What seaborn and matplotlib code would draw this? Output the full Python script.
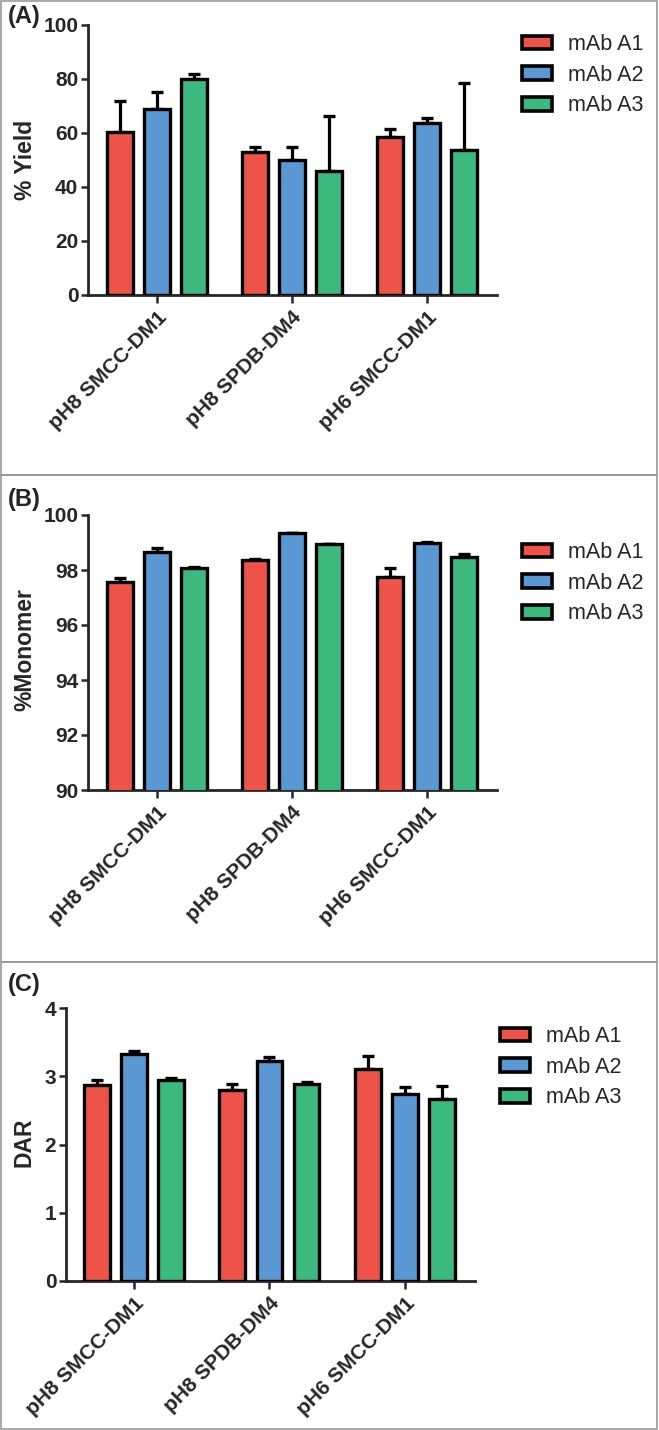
import matplotlib
matplotlib.use("Agg")
import matplotlib.pyplot as plt
import matplotlib.patches as mpatches
import numpy as np
import pandas as pd
import seaborn as sns

linkers = ["pH8 SMCC-DM1", "pH8 SPDB-DM4", "pH6 SMCC-DM1"]
mabs = ["mAb A1", "mAb A2", "mAb A3"]
colors = ["#EE5349", "#5B97D2", "#3CB97D"]

# rows = mAb, columns = linker
yield_mean = [[60.5, 53.1, 58.6], [68.8, 50.0, 63.6], [80.1, 46.0, 53.7]]
yield_sd = [[11.5, 1.7, 3.0], [6.4, 4.8, 1.8], [1.7, 20.4, 24.7]]
monomer_mean = [[97.57, 98.36, 97.73], [98.64, 99.33, 98.99], [98.08, 98.93, 98.48]]
monomer_sd = [[0.15, 0.04, 0.35], [0.17, 0.03, 0.03], [0.02, 0.02, 0.12]]
dar_mean = [[2.87, 2.80, 3.11], [3.32, 3.23, 2.74], [2.95, 2.89, 2.66]]
dar_sd = [[0.07, 0.08, 0.19], [0.05, 0.05, 0.10], [0.02, 0.02, 0.19]]

W, H = 659, 1430

sns.set_style("ticks")
plt.rcParams['font.family'] = ['Liberation Sans', 'DejaVu Sans']

fig = plt.figure(figsize=(W / 100, H / 100), dpi=100)


def px_rect(x0, ytop, x1, ybot):
    return [x0 / W, 1 - ybot / H, (x1 - x0) / W, (ybot - ytop) / H]


panels = [
    # mean, sd, ylabel, ylim, yticks, letter, axes px, xlim, legend px, panel px, letter y, label px
    (yield_mean, yield_sd, "% Yield", (0, 100), [0, 20, 40, 60, 80, 100], "(A)",
     (88, 25, 497, 295), (-0.511, 2.519), (522, 34), (1, 475), 16, (25, 160)),
    (monomer_mean, monomer_sd, "%Monomer", (90, 100), [90, 92, 94, 96, 98, 100], "(B)",
     (88, 515, 497, 790), (-0.511, 2.519), (522, 542), (475, 962), 500, (25, 650)),
    (dar_mean, dar_sd, "DAR", (0, 4), [0, 1, 2, 3, 4], "(C)",
     (66, 1008, 475, 1281), (-0.502, 2.517), (500, 1026), (962, 1429), 985, (24, 1142)),
]

for mean, sd, ylab, ylim, yticks, letter, axpx, xlim, legpx, ppx, lety, labpx in panels:
    ax = fig.add_axes(px_rect(*axpx))
    df = pd.DataFrame({
        "linker": np.tile(linkers, len(mabs)),
        "mAb": np.repeat(mabs, len(linkers)),
        "value": np.ravel(mean),
        "sd": np.ravel(sd),
    })
    sns.barplot(data=df, x="linker", y="value", hue="mAb", palette=colors,
                saturation=1, width=0.82, gap=0.3, edgecolor="black", linewidth=2.4,
                errorbar=None, ax=ax, zorder=3)

    # upper-only error bars (GraphPad style)
    for cont, m_vals, s_vals in zip(ax.containers, mean, sd):
        xs = [b.get_x() + b.get_width() / 2 for b in cont]
        ax.errorbar(xs, m_vals, yerr=[np.zeros(len(s_vals)), s_vals], fmt="none",
                    ecolor="black", elinewidth=2.3, capsize=4.0, capthick=2.4, zorder=2)

    ax.set_xlim(*xlim)
    ax.set_ylim(*ylim)
    ax.set_yticks(yticks)
    ax.set_xlabel("")
    ax.set_ylabel(ylab, fontsize=16.5, fontweight="bold")
    ax.yaxis.set_label_coords(labpx[0] / W, 1 - labpx[1] / H, transform=fig.transFigure)
    ax.yaxis.label.set_va("center")
    sns.despine(ax=ax)
    for s in ["left", "bottom"]:
        ax.spines[s].set_linewidth(2.0)
    ax.tick_params(axis="y", length=5, width=1.8, labelsize=15, pad=2)
    ax.tick_params(axis="x", length=6, width=1.8, labelsize=15, pad=3)
    for t in ax.get_yticklabels():
        t.set_fontweight("bold")
    plt.setp(ax.get_xticklabels(), rotation=45, ha="right", va="top",
             rotation_mode="anchor", fontweight="bold")

    if ax.get_legend() is not None:
        ax.get_legend().remove()
    handles = [mpatches.Patch(facecolor=c, edgecolor="black", linewidth=2.6) for c in colors]
    ax.legend(handles, mabs, loc="upper left",
              bbox_to_anchor=(legpx[0] / W, 1 - legpx[1] / H),
              bbox_transform=fig.transFigure, frameon=False, fontsize=15.5,
              handlelength=1.4, handleheight=0.6, handletextpad=0.75,
              labelspacing=0.45, borderpad=0, borderaxespad=0)

    fig.text(8 / W, 1 - lety / H, letter, fontsize=17, fontweight="bold",
             ha="left", va="center")
    fig.add_artist(mpatches.Rectangle((1 / W, 1 - ppx[1] / H), 656 / W, (ppx[1] - ppx[0]) / H,
                                      transform=fig.transFigure, fill=False,
                                      edgecolor="#9a9a9a", linewidth=1.2))

fig.savefig("out.png", dpi=100)
